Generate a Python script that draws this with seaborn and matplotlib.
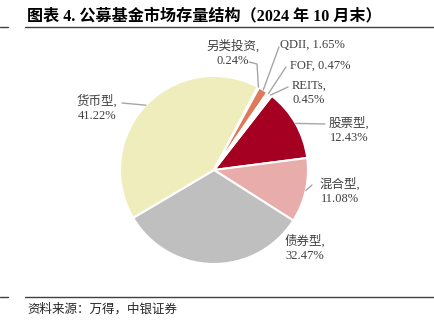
import numpy as np
import matplotlib
matplotlib.use('Agg')
import matplotlib.pyplot as plt
import seaborn as sns
from matplotlib.lines import Line2D

# ---- data ----
categories = ['股票型', '混合型', '债券型', '货币型', '另类投资', 'QDII', 'FOF', 'REITs']
values = [12.43, 11.08, 32.47, 41.22, 0.24, 1.65, 0.47, 0.45]
title = '图表 4. 公募基金市场存量结构（2024 年 10 月末）'
source = '资料来源：万得，中银证券'

# ---- style ----
colors = ['#A50021', '#E8ADAA', '#BFBFBF', '#EFEDBB', '#D9D9D9', '#E0785A', '#E3E3E3', '#F0F0F0']

sns.set_theme(style='white')
plt.rcParams['font.family'] = ['Liberation Serif', 'Noto Sans CJK SC', 'DejaVu Sans']

W, H = 435, 333
fig = plt.figure(figsize=(W / 100, H / 100), dpi=100)
ax = fig.add_axes([0, 0, 1, 1])
cx, cy, R = 214, H - 170, 94
wedges, _ = ax.pie(values, colors=colors, startangle=52.1, counterclock=False,
                   center=(cx, cy), radius=R,
                   wedgeprops=dict(edgecolor='white', linewidth=1.5))
ax.set_xlim(0, W)
ax.set_ylim(0, H)
ax.set_aspect('equal')
ax.axis('off')

# label layout (image pixel coords, y downward): text centre, single/multi line, leader path
layout = {
    '股票型': dict(pos=(349, 130), multi=True, path=[(325, 124)]),
    '混合型': dict(pos=(340, 191), multi=True, path=[(312, 185)]),
    '债券型': dict(pos=(305, 248), multi=True, path=None),
    '货币型': dict(pos=(97, 108), multi=True, path=[(122, 103)]),
    '另类投资': dict(pos=(233, 53), multi=True, path=[(257, 64), (249, 62)]),
    'QDII': dict(pos=(312, 45), multi=False, path=[(279, 47)]),
    'FOF': dict(pos=(320, 66), multi=False, path=[(286, 67)]),
    'REITs': dict(pos=(309, 93), multi=True, path=[(288, 87)]),
}

txt_color = '#404040'
for w, cat, val in zip(wedges, categories, values):
    L = layout[cat]
    sep = '\n' if L['multi'] else ' '
    label = f'{cat},{sep}{val:.2f}%'
    x, y = L['pos']
    ax.text(x, H - y, label, ha='center', va='center', fontsize=9,
            color=txt_color, linespacing=1.25)
    if L['path']:
        mid = np.deg2rad((w.theta1 + w.theta2) / 2)
        xs = [cx + R * np.cos(mid)] + [p[0] for p in L['path']]
        ys = [cy + R * np.sin(mid)] + [H - p[1] for p in L['path']]
        ax.plot(xs, ys, color='#A6A6A6', lw=1)

# title and rules
fig.text(27 / W, 1 - 16 / H, title, fontsize=11.6, fontweight='bold',
         ha='left', va='center', color='black')
for yy in (27, 297):
    fig.add_artist(Line2D([25 / W, 1], [1 - yy / H] * 2, color='#404040', lw=1))
    fig.add_artist(Line2D([0, 8 / W], [1 - yy / H] * 2, color='#404040', lw=1))
fig.text(27 / W, 1 - 309 / H, source, fontsize=9, style='italic',
         ha='left', va='center', color='#262626')

fig.savefig('out.png', dpi=100)
